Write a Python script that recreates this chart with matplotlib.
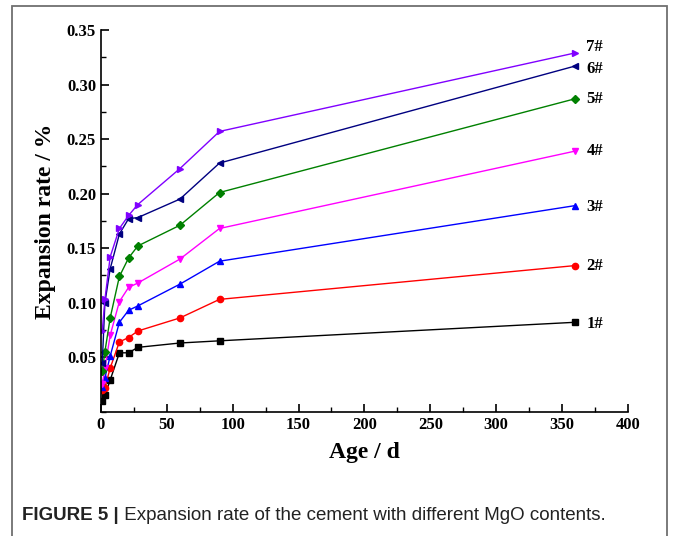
"""
Figure 5: expansion rate of the cement with different MgO contents
"""
import matplotlib
matplotlib.use("Agg")
import matplotlib.pyplot as plt
from matplotlib.patches import Rectangle
from matplotlib.ticker import MultipleLocator

# ------------------------------------------------------------
# data
# ------------------------------------------------------------
age = [1, 3, 7, 14, 21, 28, 60, 90, 360]

s1 = [0.010, 0.015, 0.029, 0.054, 0.054, 0.059, 0.063, 0.065, 0.082]
s2 = [0.020, 0.022, 0.040, 0.064, 0.068, 0.074, 0.086, 0.103, 0.134]
s3 = [0.023, 0.031, 0.051, 0.082, 0.093, 0.097, 0.117, 0.138, 0.189]
s4 = [0.025, 0.040, 0.070, 0.101, 0.114, 0.118, 0.140, 0.168, 0.239]
s5 = [0.037, 0.055, 0.086, 0.124, 0.141, 0.152, 0.171, 0.201, 0.287]
s6 = [0.045, 0.100, 0.131, 0.163, 0.177, 0.178, 0.195, 0.228, 0.317]
s7 = [0.074, 0.103, 0.142, 0.168, 0.180, 0.190, 0.223, 0.257, 0.329]

series = [s1, s2, s3, s4, s5, s6, s7]
names = ["1#", "2#", "3#", "4#", "5#", "6#", "7#"]
colors = ["#000000", "#ff0000", "#0000ff", "#ff00ff", "#008000", "#000080", "#8000ff"]
markers = ["s", "o", "^", "v", "D", "<", ">"]
msizes = [4, 4.5, 5, 5, 4, 5, 5]
# vertical nudge of the end labels (points), so 6# and 7# don't collide
nudge = [-1, 0, -1, 0, 0, -2.5, 4.5]

# ------------------------------------------------------------
# plot
# ------------------------------------------------------------
plt.rcParams["font.family"] = ["Liberation Serif", "DejaVu Serif"]
plt.rcParams["font.weight"] = "bold"

fig = plt.figure(figsize=(6.73, 5.36), dpi=100)
ax = fig.add_axes([0.150, 0.2319, 0.783, 0.7121])

for y, name, c, m, ms, dy in zip(series, names, colors, markers, msizes, nudge):
    ax.plot(age, y, color=c, marker=m, markersize=ms, linewidth=1.0)
    ax.annotate(name, xy=(age[-1], y[-1]), xytext=(8, dy),
                textcoords="offset points", fontsize=12, fontweight="bold",
                va="center", ha="left")

ax.set_xlim(0, 400)
ax.set_ylim(0, 0.35)
ax.xaxis.set_major_locator(MultipleLocator(50))
ax.xaxis.set_minor_locator(MultipleLocator(25))
ax.set_yticks([0.05, 0.10, 0.15, 0.20, 0.25, 0.30, 0.35])
ax.yaxis.set_minor_locator(MultipleLocator(0.025))
ax.tick_params(which="major", direction="in", length=6, width=1.2, labelsize=12)
ax.tick_params(which="minor", direction="in", length=3.5, width=1.0)
for lab in ax.get_xticklabels() + ax.get_yticklabels():
    lab.set_fontweight("bold")

for side in ["top", "right"]:
    ax.spines[side].set_visible(False)
for side in ["left", "bottom"]:
    ax.spines[side].set_linewidth(1.2)

ax.set_xlabel("Age / d", fontsize=17, fontweight="bold", labelpad=7)
ax.set_ylabel("Expansion rate / %", fontsize=17, fontweight="bold", labelpad=8)

# frame around the figure
fig.patches.append(Rectangle((12 / 673, -0.05), 655 / 673, 1.05 - 6 / 536,
                             transform=fig.transFigure, fill=False,
                             edgecolor="#707070", linewidth=1.3))

# caption
cap_font = ["Liberation Sans Narrow", "Liberation Sans", "DejaVu Sans"]
t1 = fig.text(22 / 673, 1 - 520 / 536, "FIGURE 5 |", family=cap_font,
              fontsize=13.5, fontweight="bold", color="#222222", va="baseline")
ax.annotate(" Expansion rate of the cement with different MgO contents.",
            xy=(1, 0), xycoords=t1, va="bottom", ha="left",
            family=cap_font, fontsize=13.5, fontweight="normal", color="#222222",
            annotation_clip=False)

fig.savefig("out.png", dpi=100)
plt.close("all")
